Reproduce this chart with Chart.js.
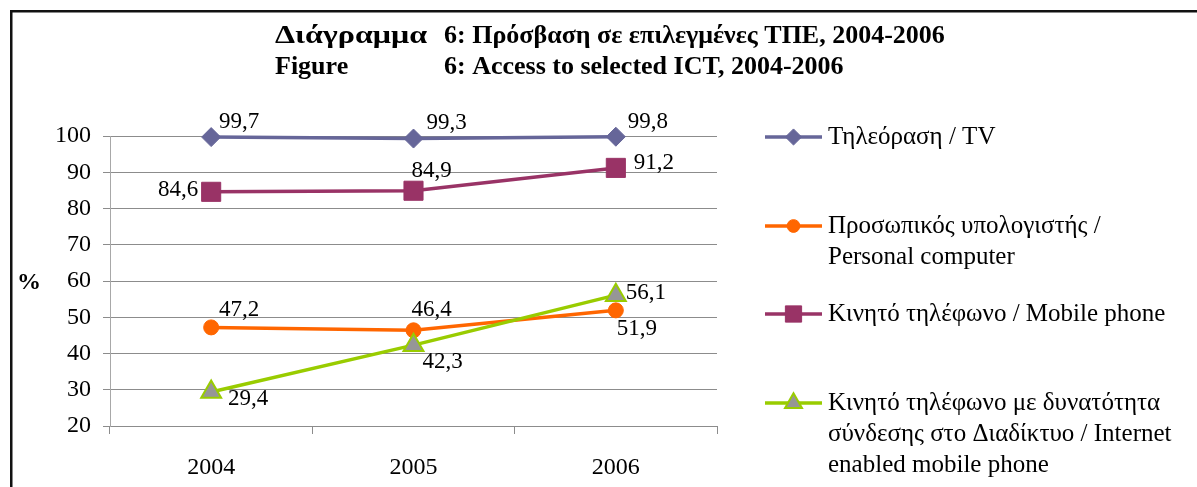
<!DOCTYPE html>
<html>
<head>
<meta charset="utf-8">
<script src="https://cdn.jsdelivr.net/npm/chart.js@4.4.0/dist/chart.umd.min.js"></script>
<style>
    html, body { margin: 0; padding: 0; background: #fff; }
    canvas { display: block; }
</style>
</head>
<body>
<canvas id="chart" width="1197" height="487"></canvas>
<script>
// --- Data ---
const years = ['2004', '2005', '2006'];
const tvValues = [99.7, 99.3, 99.8];
const pcValues = [47.2, 46.4, 51.9];
const mobileValues = [84.6, 84.9, 91.2];
const internetMobileValues = [29.4, 42.3, 56.1];

const seriesNames = [
    ['Τηλεόραση / TV'],
    ['Προσωπικός υπολογιστής /', 'Personal computer'],
    ['Κινητό τηλέφωνο / Mobile phone'],
    ['Κινητό τηλέφωνο με δυνατότητα', 'σύνδεσης στο Διαδίκτυο / Internet', 'enabled mobile phone']
];
const titleGreek = ['Διάγραμμα', '6: Πρόσβαση σε επιλεγμένες ΤΠΕ, 2004-2006'];
const titleEnglish = ['Figure', '6: Access to selected ICT, 2004-2006'];
const yAxisLabel = '%';

// --- Styling ---
const SERIF = '"Liberation Serif", "Times New Roman", serif';
const GRID = '#8c8c8c';

// where each value label sits relative to its point [dx, dy]
const labelOffsets = [
    [[28, -15], [33, -16], [32, -15]],
    [[28, -17], [18, -20], [21, 19]],
    [[-33, -2], [18, -20], [38, -5]],
    [[37, 7], [29, 17], [30, -2]]
];
// legend first-line y per entry
const legendRows = [137, 226, 314, 403];
const legendLineGap = 31;

const fmt = v => v.toFixed(1).replace('.', ',');

// draw text squeezed/stretched to a given width
function fitText(ctx, text, x, y, width) {
    const w = ctx.measureText(text).width;
    ctx.save();
    ctx.translate(x, y);
    ctx.scale(width / w, 1);
    ctx.fillText(text, 0, 0);
    ctx.restore();
}

// --- Custom drawing: frame, titles, value labels, legend ---
const decorPlugin = {
    id: 'decor',
    beforeDraw(chart) {
        const ctx = chart.ctx;
        ctx.save();
        ctx.fillStyle = '#fff';
        ctx.fillRect(0, 0, chart.width, chart.height);
        ctx.fillStyle = '#111';
        ctx.fillRect(10, 10, chart.width - 10, 2.5);
        ctx.fillRect(10, 10, 2.5, chart.height - 10);
        ctx.restore();
    },
    afterDraw(chart) {
        const ctx = chart.ctx;
        ctx.save();

        // title (two lines, second part aligned on "6:")
        ctx.fillStyle = '#000';
        ctx.font = 'bold 26px ' + SERIF;
        ctx.textBaseline = 'alphabetic';
        ctx.textAlign = 'left';
        fitText(ctx, titleGreek[0], 275, 43, 152);
        ctx.fillText(titleGreek[1], 444, 43);
        ctx.fillText(titleEnglish[0], 275, 74);
        ctx.fillText(titleEnglish[1], 444, 74);

        // y axis label
        ctx.font = 'bold 24px ' + SERIF;
        ctx.textAlign = 'center';
        ctx.textBaseline = 'middle';
        ctx.fillText(yAxisLabel, 29, 283);

        // value labels
        ctx.font = '23px ' + SERIF;
        chart.data.datasets.forEach((ds, i) => {
            const meta = chart.getDatasetMeta(i);
            meta.data.forEach((pt, j) => {
                const [dx, dy] = labelOffsets[i][j];
                ctx.fillText(fmt(ds.data[j]), pt.x + dx, pt.y + dy);
            });
        });

        // legend
        ctx.font = '25px ' + SERIF;
        ctx.textAlign = 'left';
        chart.data.datasets.forEach((ds, i) => {
            const y = legendRows[i];
            ctx.strokeStyle = ds.borderColor;
            ctx.lineWidth = ds.borderWidth;
            ctx.beginPath();
            ctx.moveTo(765, y);
            ctx.lineTo(822, y);
            ctx.stroke();
            ctx.fillStyle = ds.pointBackgroundColor;
            ctx.strokeStyle = ds.pointBorderColor;
            ctx.lineWidth = ds.pointBorderWidth;
            Chart.helpers.drawPoint(ctx, {
                pointStyle: ds.pointStyle,
                radius: ds.pointRadius * 0.85,
                rotation: 0,
                borderWidth: ds.pointBorderWidth
            }, 793.5, y);
            ctx.fillStyle = '#000';
            seriesNames[i].forEach((line, k) => {
                ctx.fillText(line, 828, y + k * legendLineGap);
            });
        });

        ctx.restore();
    }
};

function series(values, color, style, radius, fill, border, borderW) {
    return {
        data: values,
        borderColor: color,
        borderWidth: 3.5,
        pointStyle: style,
        pointRadius: radius,
        pointHoverRadius: radius,
        pointBackgroundColor: fill,
        pointBorderColor: border,
        pointBorderWidth: borderW,
        tension: 0,
        clip: false
    };
}

const datasets = [
    { ...series(tvValues, '#666699', 'rectRot', 9.5, '#666699', '#666699', 1), order: 4 },
    { ...series(pcValues, '#ff6600', 'circle', 7.5, '#ff6600', '#ff6600', 1), order: 3 },
    { ...series(mobileValues, '#993366', 'rect', 13.5, '#993366', '#993366', 1), order: 2 },
    { ...series(internetMobileValues, '#99cc00', 'triangle', 11.5, '#969696', '#99cc00', 2), order: 1 }
];

new Chart(document.getElementById('chart').getContext('2d'), {
    type: 'line',
    data: { labels: years, datasets: datasets },
    options: {
        responsive: false,
        animation: false,
        devicePixelRatio: 1,
        layout: { padding: { top: 136, right: 480, bottom: 0, left: 0 } },
        plugins: {
            legend: { display: false },
            title: { display: false },
            tooltip: { enabled: false }
        },
        scales: {
            x: {
                offset: true,
                grid: { offset: true, drawOnChartArea: false, drawTicks: true, tickLength: 8, color: GRID },
                border: { color: GRID, width: 1 },
                ticks: { padding: 19, color: '#000', font: { family: SERIF, size: 24 } },
                afterFit: s => { s.height = 61; }
            },
            y: {
                min: 20,
                max: 100,
                ticks: { stepSize: 10, padding: 12, color: '#000', font: { family: SERIF, size: 24 } },
                grid: { color: GRID, tickLength: 7, drawTicks: true },
                border: { color: '#a8a8a8', width: 1 },
                afterFit: s => { s.width = 110; }
            }
        }
    },
    plugins: [decorPlugin]
});
</script>
</body>
</html>
